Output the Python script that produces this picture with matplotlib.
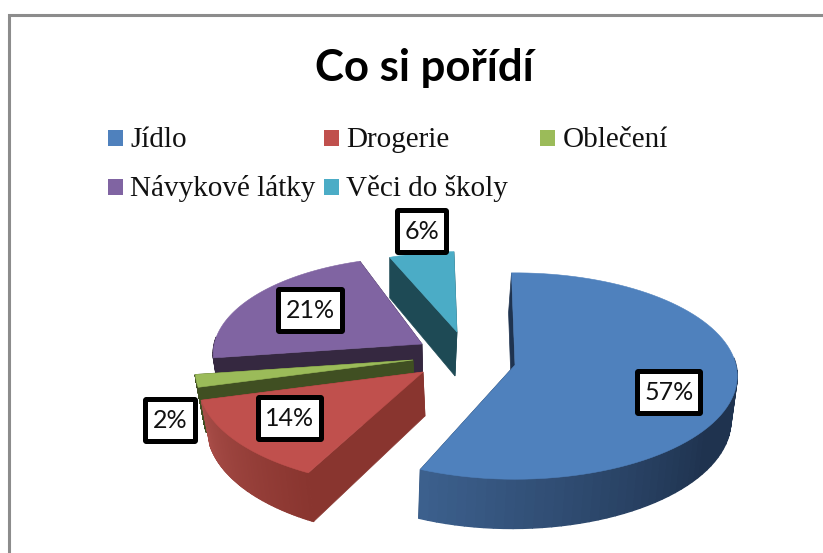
import numpy as np
import matplotlib
matplotlib.use("Agg")
import matplotlib.pyplot as plt
from matplotlib.patches import Polygon, Rectangle, FancyBboxPatch

title = "Co si pořídí"
categories = ["Jídlo", "Drogerie", "Oblečení", "Návykové látky", "Věci do školy"]
values = [57, 14, 2, 21, 6]

top_colors = ["#4f81bd", "#c0504d", "#9bbb59", "#8064a2", "#4bacc6"]
cut_colors = ["#1f334f", "#89352f", "#404f22", "#352840", "#1e4a55"]
wall_light = ["#3d618f", "#a84d48", "#404f22", "#352840", "#1e4a55"]
wall_dark = ["#1f334f", "#89352f", "#404f22", "#352840", "#1e4a55"]

# layout of the exploded slices, in pixels
apex = [(515, 365), (423, 372), (413, 360), (422, 344), (457, 332)]
radius = [1.0, 1.01, 0.98, 0.94, 0.86]
lean = [-3, 2, 2, 1, -2]
shrink = [0.985, 0.97, 0.97, 0.97, 0.97]
# small corrections of the edge angles, the drawn pie is not quite true
trim_start = [0, 3.5, 0, 0, 0]
trim_end = [-1.5, 0, 0, 3.5, 0]
draw_order = [4, 3, 2, 1, 0]
label_box = [(635, 369), (256, 395), (143, 397), (276, 287), (395, 208)]
box_w = [68, 68, 55, 69, 54]
legend_pos = [(108, 130), (324, 130), (540, 130), (108, 179), (324, 179)]
legend_base = [147, 147, 147, 196, 196]
legend_text_x = [130, 346, 563, 130, 346]

RX, RY, K, DEPTH, START = 221, 102, 0.107, 44, -1.0


def project(theta, r, center):
    # clockwise degrees from top, slight perspective on the plane
    t = np.radians(theta)
    px, py = r * np.sin(t), r * np.cos(t)
    w = 1 + K * py
    return center[0] + RX * px / w, center[1] - RY * py / w, w


def lower(x, y, w, center, shift, s):
    return center[0] + shift + s * (x - center[0]), y + DEPTH / w


fig = plt.figure(figsize=(8.23, 5.53), dpi=100)
ax = fig.add_axes([0, 0, 1, 1])
ax.set_xlim(0, 823)
ax.set_ylim(553, 0)
ax.axis("off")

# chart frame runs off the right and bottom of the picture
ax.add_patch(Rectangle((9.5, 15.2), 830, 560, fc="white", ec="#8c8c8c", lw=2.2))

ends = np.cumsum(values) / sum(values) * 360
starts = np.concatenate([[0], ends[:-1]])

for i in draw_order:
    a0, a1 = START + starts[i] + trim_start[i], START + ends[i] + trim_end[i]
    c = apex[i]
    th = np.linspace(a0, a1, 90)
    xs, ys, ws = project(th, radius[i], c)
    bx, by = lower(xs, ys, ws, c, lean[i], shrink[i])
    ax0, ay0 = lower(c[0], c[1], 1, c, lean[i], shrink[i])

    # the two cut faces
    for k in (0, -1):
        ax.add_patch(Polygon([c, (xs[k], ys[k]), (bx[k], by[k]), (ax0, ay0)],
                             fc=cut_colors[i], ec=cut_colors[i], lw=0.5))

    # outer wall, only the part turned to the viewer, shaded along the arc
    front = np.where((th > 85) & (th < 275))[0]
    if len(front) > 1:
        far, near = th[front].max(), max(th[front].min(), 125)
        light = np.array(matplotlib.colors.to_rgb(wall_light[i]))
        dark = np.array(matplotlib.colors.to_rgb(wall_dark[i]))
        for j in front[:-1]:
            f = np.clip((far - th[j]) / (far - near), 0, 1)
            col = light + (dark - light) * f
            ax.add_patch(Polygon([(xs[j], ys[j]), (xs[j + 1], ys[j + 1]),
                                  (bx[j + 1], by[j + 1]), (bx[j], by[j])],
                                 fc=col, ec=col, lw=1.0))

    ax.add_patch(Polygon(np.vstack([[c], np.column_stack([xs, ys])]),
                         fc=top_colors[i], ec=top_colors[i], lw=0.4))

# data labels
for v, (x, y), w in zip(values, label_box, box_w):
    ax.add_patch(FancyBboxPatch((x + 2.5, y + 2.5), w - 5, 47 - 5,
                                boxstyle="round,pad=0,rounding_size=1",
                                fc="white", ec="black", lw=3.6, zorder=5))
    ax.text(x + w / 2, y + 23.5, f"{v}%", ha="center", va="center", zorder=6,
            fontsize=18, family="Lato", color="#111111")

ax.text(424, 81, title, ha="center", va="baseline", fontsize=31.5,
        family="Lato", fontweight="bold", color="black")

# legend
for name, col, (x, y), tx, base in zip(categories, top_colors, legend_pos, legend_text_x, legend_base):
    ax.add_patch(Rectangle((x, y), 15.5, 15.5, fc=col, ec="none"))
    ax.text(tx, base, name, ha="left", va="baseline",
            fontsize=21, family="Liberation Serif", color="#111111")

fig.savefig("out.png", dpi=100)
